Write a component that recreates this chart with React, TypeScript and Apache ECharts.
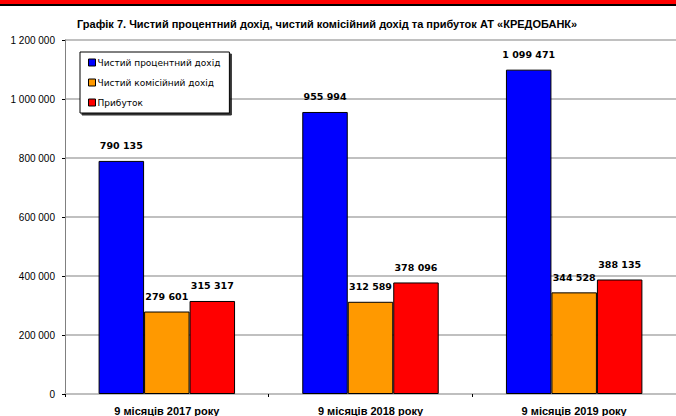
import React, { useEffect, useRef } from "react";
import * as echarts from "echarts";

const categories = ["9 місяців 2017 року", "9 місяців 2018 року", "9 місяців 2019 року"];
const seriesNames = ["Чистий процентний дохід", "Чистий комісійний дохід", "Прибуток"];
const interestIncome = [790135, 955994, 1099471];
const commissionIncome = [279601, 312589, 344528];
const profit = [315317, 378096, 388135];
const colors = ["#0000FF", "#FF9900", "#FF0000"];
const titleText = "Графік 7. Чистий процентний дохід, чистий комісійний дохід та прибуток АТ «КРЕДОБАНК»";

const fmt = (v: number) => String(Math.round(v)).replace(/\B(?=(\d{3})+(?!\d))/g, " ");

export default function App() {
  const ref = useRef<HTMLDivElement>(null);
  useEffect(() => {
    if (!ref.current) return;
    const chart = echarts.init(ref.current, null, { renderer: "svg" });
    const data = [interestIncome, commissionIncome, profit];
    chart.setOption({
      animation: false,
      backgroundColor: "#FFFFFF",
      title: {
        text: titleText,
        left: 72,
        top: 13,
        textStyle: { fontFamily: "Liberation Sans", fontSize: 11, fontWeight: "bold", color: "#000" },
      },
      graphic: [
        { type: "rect", left: 0, top: 0, shape: { width: 676, height: 4 }, style: { fill: "#FF0000" } },
        { type: "rect", left: 0, top: 4, shape: { width: 676, height: 2 }, style: { fill: "#000000" } },
      ],
      legend: {
        orient: "vertical",
        left: 80,
        top: 52,
        itemWidth: 7,
        itemHeight: 7,
        itemGap: 11,
        padding: [6, 9, 6, 8],
        backgroundColor: "#FFFFFF",
        borderColor: "#000000",
        borderWidth: 1,
        shadowColor: "rgba(0,0,0,0.8)",
        shadowOffsetX: 2,
        shadowOffsetY: 2,
        shadowBlur: 1,
        textStyle: { fontFamily: "DejaVu Sans", fontSize: 9, color: "#000", padding: [0, 0, 0, -3] },
        data: seriesNames.map((n) => ({ name: n, icon: "rect", itemStyle: { borderColor: "#000", borderWidth: 1 } })),
      },
      grid: { left: 65, right: -7, top: 40, bottom: 22 },
      xAxis: {
        type: "category",
        data: categories,
        axisLine: { lineStyle: { color: "#BFBFBF", width: 2 } },
        axisTick: { show: true, length: 3, lineStyle: { color: "#000" } },
        axisLabel: {
          margin: 11,
          fontFamily: "Liberation Sans",
          fontSize: 11,
          fontWeight: "bold",
          color: "#000",
        },
      },
      yAxis: {
        type: "value",
        min: 0,
        max: 1200000,
        interval: 200000,
        axisLine: { show: true, lineStyle: { color: "#808080", width: 1 } },
        axisTick: { show: true, length: 3, lineStyle: { color: "#000" } },
        splitLine: { lineStyle: { color: "#C0C0C0", width: 2 } },
        axisLabel: {
          margin: 10,
          fontFamily: "Liberation Sans",
          fontSize: 10,
          color: "#000",
          formatter: (v: number) => fmt(v),
        },
      },
      series: seriesNames.map((name, i) => ({
        name,
        type: "bar",
        data: data[i],
        barGap: "0%",
        barCategoryGap: "33%",
        itemStyle: { color: colors[i], borderColor: "#000", borderWidth: 1 },
        label: {
          show: true,
          position: "top",
          distance: 10,
          fontFamily: "DejaVu Sans",
          fontSize: 9.5,
          fontWeight: "bold",
          color: "#000",
          formatter: (p: any) => fmt(p.value),
        },
      })),
    });
    return () => chart.dispose();
  }, []);
  return <div ref={ref} style={{ width: 676, height: 416, position: "fixed", left: 0, top: 0 }} />;
}
